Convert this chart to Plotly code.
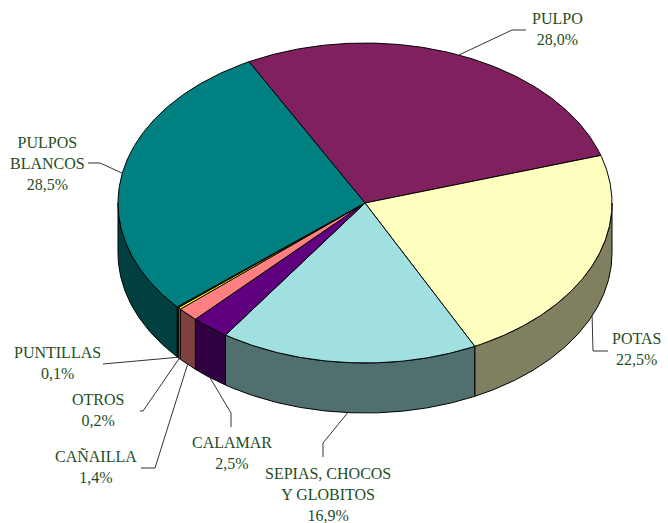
import numpy as np
import plotly.graph_objects as go

# ---- data ----
categories = ["PULPO", "POTAS", "SEPIAS, CHOCOS<br>Y GLOBITOS", "CALAMAR",
              "CAÑAILLA", "OTROS", "PUNTILLAS", "PULPOS<br>BLANCOS"]
values = [28.0, 22.5, 16.9, 2.5, 1.4, 0.2, 0.1, 28.5]
top_colors = ["#80205F", "#FFFFC0", "#A0E0E0", "#600080",
              "#FF8080", "#FFFF00", "#404000", "#008080"]
side_colors = ["#401030", "#808060", "#507070", "#300040",
               "#804040", "#808000", "#202000", "#004040"]

# label placement (pixel layout) and leader-line elbows
label_xy = [(557, 29), (636, 349), (328, 494), (232, 453),
            (96, 467), (98, 410), (57, 363), (47, 163)]
leader_pts = [[(512, 30), (526, 30)],
              [(593, 351), (608, 351)],
              [(323, 443), (323, 457)],
              [(231, 413), (231, 427)],
              [(155, 468), (141, 468)],
              [(143, 411), (140, 411)],
              [(103, 364)],
              [(100, 163), (88, 163)]]

# ---- geometry of the 3-D pie ----
W, H = 668, 523
CX, CY, RX, RY, DEPTH, START = 365, 203, 247, 160, 50, 118.0

total = sum(values)
cum = np.concatenate([[0], np.cumsum(values)]) / total
t_start = START - 360 * cum[:-1]
t_end = START - 360 * cum[1:]


def ex(t):
    return CX + RX * np.cos(np.radians(t))


def ey(t):
    return CY - RY * np.sin(np.radians(t))


def arc(a, b):
    n = max(int(abs(a - b) * 2), 2)
    return np.linspace(a, b, n)


fig = go.Figure()

# side walls (front half only: t in [-180, 0] mod 360)
for i in range(len(values)):
    a, b = t_end[i], t_start[i]  # a < b
    for k in (-360, 0, 360):
        lo, hi = max(a + k, -180), min(b + k, 0)
        if hi > lo:
            t = arc(lo, hi)
            xs = np.concatenate([ex(t), ex(t[::-1])])
            ys = np.concatenate([ey(t), ey(t[::-1]) + DEPTH])
            fig.add_trace(go.Scatter(
                x=np.append(xs, xs[0]), y=np.append(ys, ys[0]),
                mode="lines", fill="toself", fillcolor=side_colors[i],
                line=dict(color="#000000", width=1), hoverinfo="skip",
                showlegend=False))

# top faces
for i in range(len(values)):
    t = arc(t_start[i], t_end[i])
    xs = np.concatenate([[CX], ex(t), [CX]])
    ys = np.concatenate([[CY], ey(t), [CY]])
    fig.add_trace(go.Scatter(
        x=xs, y=ys, mode="lines", fill="toself", fillcolor=top_colors[i],
        line=dict(color="#000000", width=1), hoverinfo="skip",
        showlegend=False, name=categories[i]))

# labels and leader lines
for i in range(len(values)):
    mid = (t_start[i] + t_end[i]) / 2
    mid_n = ((mid + 180) % 360) - 180
    px, py = ex(mid), ey(mid)
    if -180 <= mid_n <= 0:
        py += DEPTH
    pts = [(px, py)] + leader_pts[i]
    fig.add_trace(go.Scatter(
        x=[p[0] for p in pts], y=[p[1] for p in pts], mode="lines",
        line=dict(color="#333333", width=1), hoverinfo="skip",
        showlegend=False))
    pct = f"{values[i]:.1f}".replace(".", ",") + "%"
    fig.add_annotation(
        x=label_xy[i][0], y=label_xy[i][1], xref="x", yref="y",
        text=f"{categories[i]}<br>{pct}", showarrow=False,
        xanchor="center", yanchor="middle", align="center",
        font=dict(family="Liberation Serif", size=16, color="#1E4E1E"))

fig.update_layout(
    width=W, height=H, margin=dict(l=0, r=0, t=0, b=0),
    paper_bgcolor="white", plot_bgcolor="white",
    xaxis=dict(range=[0, W], visible=False, fixedrange=True),
    yaxis=dict(range=[H, 0], visible=False, fixedrange=True),
    showlegend=False)

fig.write_html("out.html", config={"displayModeBar": False},
               post_script="document.body.style.margin='0';"
                           "document.body.style.overflow='hidden';")
